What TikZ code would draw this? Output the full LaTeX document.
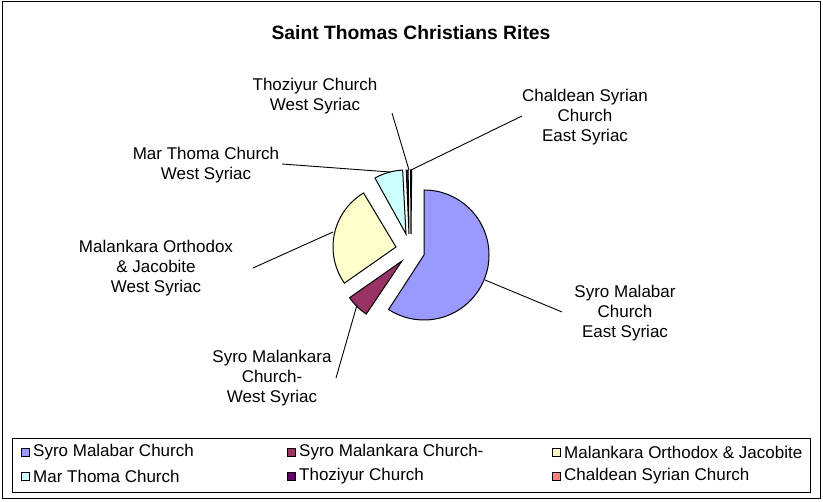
\documentclass[tikz,border=0pt]{standalone}
\usepackage{fontspec}
\setmainfont{Liberation Sans}
\definecolor{cA}{HTML}{9999FF}
\definecolor{cB}{HTML}{993366}
\definecolor{cC}{HTML}{FFFFCC}
\definecolor{cD}{HTML}{CCFFFF}
\definecolor{cE}{HTML}{660066}
\definecolor{cF}{HTML}{FF8080}
\begin{document}
\begin{tikzpicture}[x=1pt,y=-1pt,
  lbl/.style={align=center,font=\fontsize{17}{20}\selectfont},
  leg/.style={anchor=west,font=\fontsize{17}{18}\selectfont,inner sep=0pt},
  sw/.style={draw=black,line width=0.8pt,minimum size=8pt,inner sep=0pt},
  wedge/.style={draw=black,line width=1pt},
  lead/.style={draw=black,line width=0.9pt}]
\useasboundingbox (0,0) rectangle (823,502);
\fill[white] (0,0) rectangle (823,502);
\draw[line width=1pt] (2,2) rectangle (820,499);
\node[font=\bfseries\fontsize{19.3}{21}\selectfont] (title) at (411,33) {Saint Thomas Christians Rites};
% wedges
\filldraw[wedge,fill=cA] (424,255) -- ++(-90:65) arc[start angle=-90,end angle=123,radius=65] -- cycle;
\filldraw[wedge,fill=cB] (402,261) -- ++(124:64) arc[start angle=124,end angle=145,radius=64] -- cycle;
\filldraw[wedge,fill=cC] (396,247) -- ++(-121:63) arc[start angle=-121,end angle=-215,radius=63] -- cycle;
\filldraw[wedge,fill=cD] (406,234) -- ++(-93:64) arc[start angle=-93,end angle=-119,radius=64] -- cycle;
\filldraw[wedge,fill=cE] (409,234) -- ++(-90.8:64) arc[start angle=-90.8,end angle=-92.5,radius=64] -- cycle;
\filldraw[wedge,fill=cF] (411,234) -- ++(-89.4:64) arc[start angle=-89.4,end angle=-90.4,radius=64] -- cycle;
% labels
\node[lbl] (lE) at (315,96) {Thoziyur Church\\West Syriac};
\node[lbl] (lF) at (585,117) {Chaldean Syrian\\Church\\East Syriac};
\node[lbl] (lD) at (206,165) {Mar Thoma Church\\West Syriac};
\node[lbl] (lC) at (156,268) {Malankara Orthodox\\\& Jacobite\\West Syriac};
\node[lbl] (lB) at (272,378) {Syro Malankara\\Church-\\West Syriac};
\node[lbl] (lA) at (625,313) {Syro Malabar\\Church\\East Syriac};
\coordinate (pE) at (409,170);
\coordinate (pF) at (411,170);
\coordinate (pD) at (390,172);
\coordinate (pC) at (333,232);
\coordinate (pB) at (357,305);
\coordinate (pA) at (485,280);
\draw[lead] (392,113) -- (pE);
\draw[lead] (522,116) -- (pF);
\draw[lead] (282,164) -- (pD);
\draw[lead] (253,268) -- (pC);
\draw[lead] (336,378) -- (pB);
\draw[lead] (562,312) -- (pA);
% legend
\draw[line width=0.9pt] (12,438) rectangle (810,492);
\node[sw,fill=cA] (s1) at (25,452) {};
\node[leg] at (33,452) {Syro Malabar Church};
\node[sw,fill=cB] (s2) at (291,452) {};
\node[leg] at (299,452) {Syro Malankara Church-};
\node[sw,fill=cC] (s3) at (556,452) {};
\node[leg] at (564,452) {Malankara Orthodox \& Jacobite};
\node[sw,fill=cD] (s4) at (25,476) {};
\node[leg] at (33,476) {Mar Thoma Church};
\node[sw,fill=cE] (s5) at (291,476) {};
\node[leg] at (299,476) {Thoziyur Church};
\node[sw,fill=cF] (s6) at (556,476) {};
\node[leg] at (564,476) {Chaldean Syrian Church};
\end{tikzpicture}
\end{document}
